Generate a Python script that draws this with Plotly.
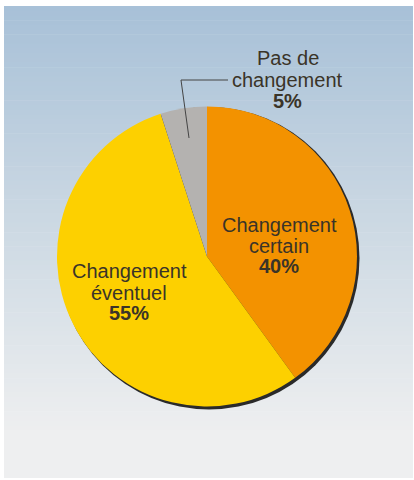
import plotly.graph_objects as go

# ---- data ----
labels = ["Changement certain", "Changement éventuel", "Pas de changement"]
label_lines = [["Changement", "certain"], ["Changement", "éventuel"], ["Pas de", "changement"]]
values = [40, 55, 5]
colors = ["#f39200", "#fdd000", "#b4b2b0"]

W, H = 414, 480

def px(x):
    return x / W

def py(y):
    return 1 - y / H

# pie geometry (pixels)
cx, cy, r = 207, 256.5, 150

fig = go.Figure()
fig.add_trace(go.Pie(
    labels=labels, values=values, sort=False, direction="clockwise", rotation=0,
    marker=dict(colors=colors, line=dict(width=0)),
    textinfo="none", hoverinfo="label+percent", showlegend=False,
    domain=dict(x=[px(cx - r), px(cx + r)], y=[py(cy + r), py(cy - r)]),
))

shapes = []
# background gradient bands
top_y, grad_end, bottom_y = 6, 430, 478
c_top = (168, 193, 216)
c_mid = (200, 214, 226)
c_bot = (238, 239, 240)
n = 90
for i in range(n):
    y0 = top_y + (grad_end - top_y) * i / n
    y1 = top_y + (grad_end - top_y) * (i + 1) / n + 0.6
    t = (i + 0.5) / n
    if t < 0.45:
        u = t / 0.45
        c = tuple(int(c_top[k] + (c_mid[k] - c_top[k]) * u) for k in range(3))
    else:
        u = (t - 0.45) / 0.55
        c = tuple(int(c_mid[k] + (c_bot[k] - c_mid[k]) * u) for k in range(3))
    shapes.append(dict(type="rect", xref="paper", yref="paper", layer="below",
                       x0=px(4), x1=px(413), y0=py(y1), y1=py(y0),
                       line=dict(width=0), fillcolor="rgb(%d,%d,%d)" % c))
shapes.append(dict(type="rect", xref="paper", yref="paper", layer="below",
                   x0=px(4), x1=px(413), y0=py(bottom_y), y1=py(grad_end),
                   line=dict(width=0), fillcolor="rgb(%d,%d,%d)" % c_bot))
# pie shadow
shapes.append(dict(type="circle", xref="paper", yref="paper", layer="below",
                   x0=px(cx - r + 1.5), x1=px(cx + r + 2.5), y0=py(cy + r + 3), y1=py(cy - r + 0.5),
                   line=dict(width=0), fillcolor="#2a2a2a"))
# leader line for small slice
shapes.append(dict(type="path", xref="paper", yref="paper",
                   path="M %f,%f L %f,%f L %f,%f" % (px(228), py(80), px(181), py(80), px(189), py(138)),
                   line=dict(color="#444444", width=1)))

annotations = []
txt_color = "#3a3428"
font_family = "Liberation Sans, Arial, sans-serif"
label_pos = [(279, [232, 253, 273]), (129, [278, 300, 320]), (287.5, [65, 87, 108])]
for lines, v, (xc, bls) in zip(label_lines, values, label_pos):
    texts = lines + ["<b>%d%%</b>" % v]
    for t, bl in zip(texts, bls):
        annotations.append(dict(x=px(xc), y=py(bl - 7), xref="paper", yref="paper",
                                text=t, showarrow=False, xanchor="center", yanchor="middle",
                                font=dict(size=20, color=txt_color, family=font_family)))

fig.update_layout(
    width=W, height=H, margin=dict(l=0, r=0, t=0, b=0),
    paper_bgcolor="white", plot_bgcolor="white",
    shapes=shapes, annotations=annotations,
)
fig.write_html("out.html", config={"displayModeBar": False},
               post_script="document.body.style.margin='0';document.body.style.overflow='hidden';")
